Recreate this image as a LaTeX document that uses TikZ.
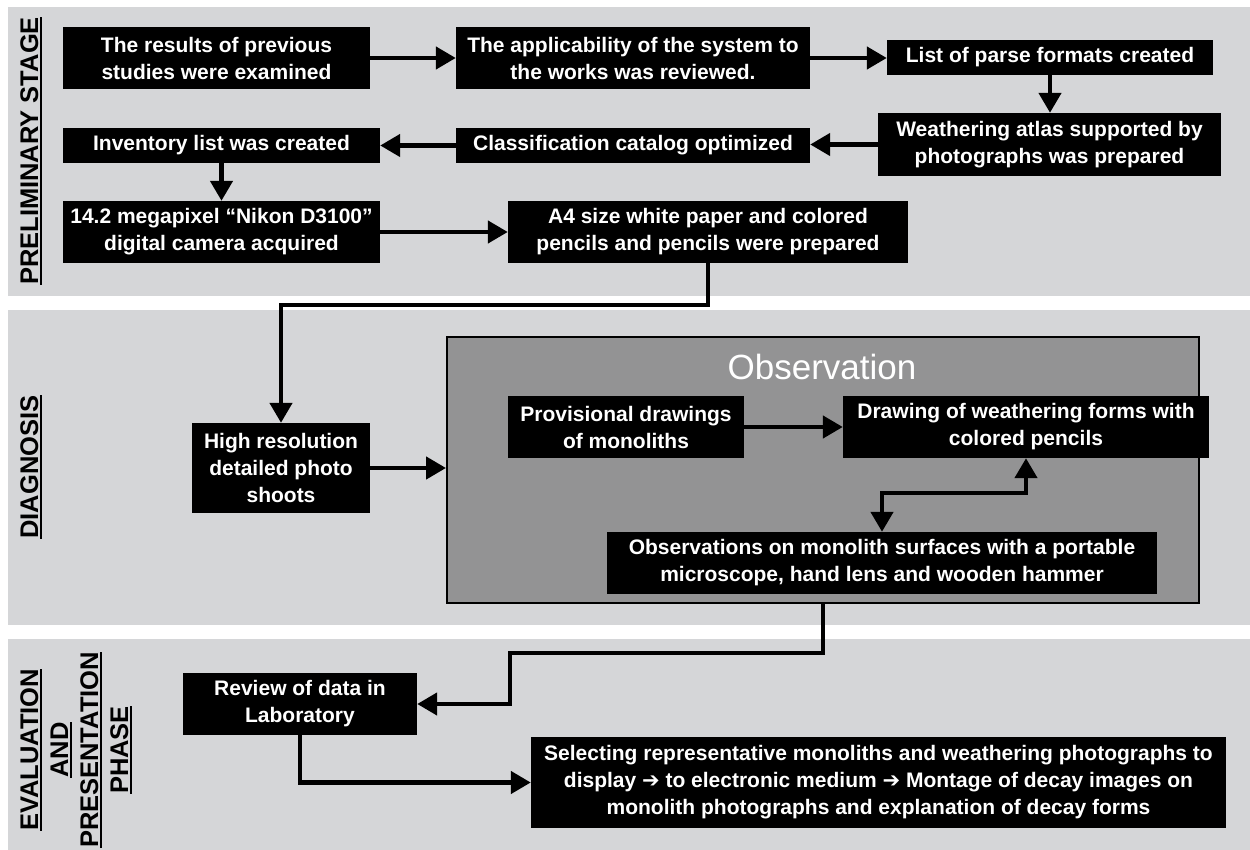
\documentclass[tikz,border=0pt]{standalone}
\usepackage{fontspec}
\setmainfont{Liberation Sans}
\newfontfamily\arrowfont{DejaVu Sans}
\usetikzlibrary{arrows.meta}
\definecolor{bandgray}{RGB}{213,214,216}
\definecolor{obsgray}{RGB}{147,147,148}
\newcommand\myul[1]{\setbox0\hbox{#1}\rlap{\rule[-3.5pt]{\wd0}{2pt}}\box0}
\newcommand\ra{{\arrowfont ➔}}
\begin{document}
\begin{tikzpicture}[x=1pt,y=-1pt,
  box/.style={fill=black,text=white,font=\bfseries\fontsize{21}{27}\selectfont,align=center,inner sep=0pt},
  wh/.style 2 args={minimum width=#1pt,minimum height=#2pt},
  arr/.style={line width=4.5pt,-{Triangle[length=20pt,width=22pt]}},
  dbl/.style={line width=4.5pt,{Triangle[length=20pt,width=22pt]}-{Triangle[length=20pt,width=22pt]}},
  lbl/.style={font=\bfseries\fontsize{25.5}{30}\selectfont,rotate=90,align=center,inner sep=0pt}]
\useasboundingbox (0,0) rectangle (1250,850);
\fill[white] (0,0) rectangle (1250,850);
% bands
\fill[bandgray] (8,7) rectangle (1250,296);
\fill[bandgray] (8,310) rectangle (1250,625);
\fill[bandgray] (8,639) rectangle (1250,850);
% band labels
\node[lbl,anchor=base] (l1) at (38,151) {\myul{PRELIMINARY STAGE}};
\node[lbl,anchor=base] (l2) at (38,467) {\myul{DIAGNOSIS}};
\node[lbl] (l3) at (76,750) {\myul{EVALUATION}\\\myul{AND}\\\myul{PRESENTATION}\\\myul{PHASE}};
% preliminary stage
\node[box,wh={307}{62}] (b1) at (216.5,58) {The results of previous\\studies were examined};
\node[box,wh={354}{62}] (b2) at (633,58) {The applicability of the system to\\the works was reviewed.};
\node[box,wh={326}{35}] (b3) at (1050,57.5) {List of parse formats created};
\node[box,wh={343}{63}] (b4) at (1049.5,144.5) {Weathering atlas supported by\\photographs was prepared};
\node[box,wh={354}{35}] (b5) at (633,145.5) {Classification catalog optimized};
\node[box,wh={317}{35}] (b6) at (221.5,145.5) {Inventory list was created};
\node[box,wh={317}{62}] (b7) at (221.5,232) {14.2 megapixel “Nikon D3100”\\digital camera acquired};
\node[box,wh={400}{62}] (b8) at (708,232) {A4 size white paper and colored\\pencils and pencils were prepared};
\draw[arr] (b1.east) -- (b1.east -| b2.west);
\draw[arr] (b2.east) -- (b2.east -| b3.west);
\draw[arr] (b3.south) -- (b3.south |- b4.north);
\draw[arr] (b4.west) -- (b4.west -| b5.east);
\draw[arr] (b5.west) -- (b5.west -| b6.east);
\draw[arr] (b6.south) -- (b7.north);
\draw[arr] (b7.east) -- (b7.east -| b8.west);
% diagnosis
\node[box,wh={178}{90}] (hr) at (281,468) {High resolution\\detailed photo\\shoots};
\node[draw=black,line width=2pt,fill=obsgray,inner sep=0pt,wh={752}{266}] (obs) at (823,470) {};
\node[text=white,font=\fontsize{35}{40}\selectfont,inner sep=0pt] (ttl) at (822,367) {Observation};
\node[box,wh={236}{62}] (p) at (626,427) {Provisional drawings\\of monoliths};
\node[box,wh={366}{62}] (d) at (1026,427) {Drawing of weathering forms with\\colored pencils};
\node[box,wh={550}{62}] (o) at (882,563) {Observations on monolith surfaces with a portable\\microscope, hand lens and wooden hammer};
\draw[arr] (b8.south) -- ++(0,42) -| (hr.north);
\draw[arr] (hr.east) -- (hr.east -| obs.west);
\draw[arr] (p.east) -- (p.east -| d.west);
\draw[dbl] (d.south) -- ++(0,35) -| (o.north);
% evaluation
\node[box,wh={234}{62}] (rv) at (300,704) {Review of data in\\Laboratory};
\node[box,wh={695}{91}] (sel) at (878.5,782.5) {Selecting representative monoliths and weathering photographs to\\display \ra{} to electronic medium \ra{} Montage of decay images on\\monolith photographs and explanation of decay forms};
\coordinate (k1) at (510,653);
\draw[arr] (obs.south) |- (k1) |- (rv.east);
\draw[arr] (rv.south) |- (sel.west);
\end{tikzpicture}
\end{document}
